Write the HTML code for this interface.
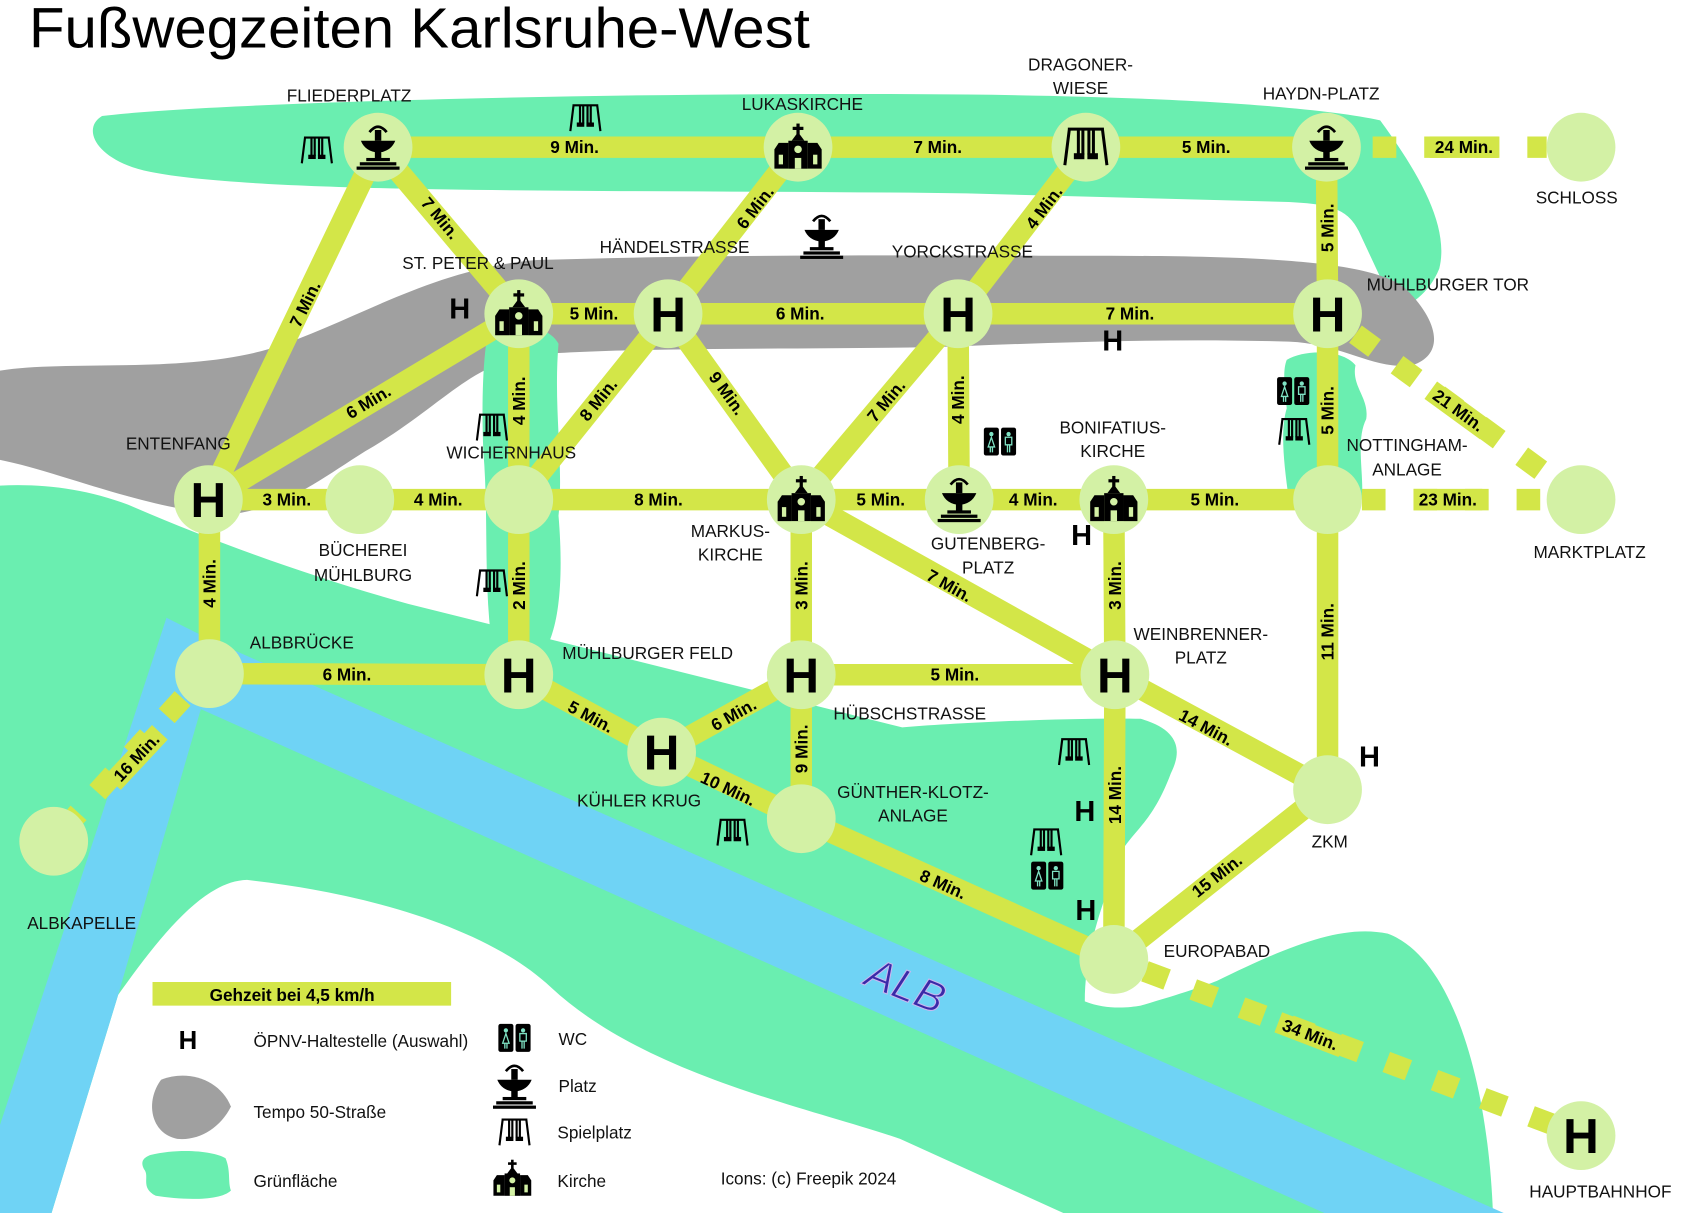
<!DOCTYPE html>
<html><head><meta charset="utf-8"><style>
html,body{margin:0;padding:0;background:#fff;}
svg{display:block;}
text{font-family:"Liberation Sans",sans-serif;}
.l{font-size:16px;fill:#111;text-anchor:middle;dominant-baseline:central;}
.m{font-size:16px;font-weight:bold;fill:#000;text-anchor:middle;dominant-baseline:central;}
.h{font-size:27px;font-weight:bold;fill:#000;text-anchor:middle;dominant-baseline:central;}
.H{font-size:46px;font-weight:bold;fill:#000;text-anchor:middle;dominant-baseline:central;}
.lg{font-size:16px;fill:#111;dominant-baseline:central;}
</style></head><body>
<svg width="1682" height="1213" viewBox="0 0 1566 1129" preserveAspectRatio="none" xmlns="http://www.w3.org/2000/svg">
<defs>
<g id="fount">
 <rect x="-3" y="-14" width="6" height="10" fill="#000"/>
 <path d="M-8,-12 Q0,-22 8,-12" fill="none" stroke="#000" stroke-width="2.5"/>
 <path d="M-16,-4 L16,-4 Q12,6 0,7 Q-12,6 -16,-4Z" fill="#000"/>
 <rect x="-3" y="6" width="6" height="7" fill="#000"/>
 <rect x="-11" y="12" width="22" height="3" fill="#000"/>
 <rect x="-17" y="16" width="34" height="3" fill="#000"/>
 <rect x="-20" y="20" width="40" height="3" fill="#000"/>
</g>
<g id="church">
 <rect x="-1.5" y="-22" width="3" height="10" fill="#000"/>
 <rect x="-5" y="-19" width="10" height="3" fill="#000"/>
 <path d="M-6,-6 L0,-14 L6,-6Z" fill="#000"/>
 <rect x="-9" y="-6" width="18" height="26" fill="#000"/>
 <path d="M-22,2 L-18,-4 L-9,-4 L-9,20 L-22,20Z" fill="#000"/>
 <path d="M22,2 L18,-4 L9,-4 L9,20 L22,20Z" fill="#000"/>
 <circle cx="0" cy="2" r="3.5" fill="#d3f1a5"/>
 <rect x="-3" y="10" width="6" height="10" fill="#d3f1a5"/>
 <rect x="-18" y="7" width="4" height="9" fill="#d3f1a5"/>
 <rect x="14" y="7" width="4" height="9" fill="#d3f1a5"/>
</g>
<g id="swing">
 <path d="M-12,-12 L12,-12 M-11,-12 L-14,12 M11,-12 L14,12 M-5,-12 L-5,5 M-2,-12 L-2,5 M5,-12 L5,5 M2,-12 L2,5" stroke="#000" stroke-width="2" fill="none"/>
 <rect x="-8" y="4" width="7" height="4" fill="#000"/>
 <rect x="1" y="4" width="7" height="4" fill="#000"/>
</g>
<g id="wc">
 <rect x="-15" y="-13" width="14" height="26" rx="2" fill="#000"/>
 <rect x="1" y="-13" width="14" height="26" rx="2" fill="#000"/>
 <circle cx="-8" cy="-7" r="2" fill="#7fe3c4"/>
 <path d="M-8,-4 L-11,5 L-5,5Z M-9,5 L-9,10 M-7,5 L-7,10" stroke="#7fe3c4" stroke-width="1.2" fill="none"/>
 <circle cx="8" cy="-7" r="2" fill="#7fe3c4"/>
 <path d="M5,-4 L11,-4 L11,3 L5,3Z M7,3 L7,10 M9,3 L9,10" stroke="#7fe3c4" stroke-width="1.2" fill="none"/>
</g>
</defs>

<path d="M0,452 C40,450 80,455 120,470 C200,505 300,540 380,562 L840,677 C900,672 1000,668 1062,669 C1100,680 1100,700 1090,720 C1075,760 1060,770 1047,788 C1030,830 1010,880 1010,932 C1030,940 1050,938 1062,936 C1100,925 1120,918 1133,913 C1200,880 1250,860 1292,869 C1350,890 1385,1000 1390,1129 L0,1129 Z" fill="#6aeeb0"/>
<path d="M48,1129 L110,926 C150,870 190,820 230,819 C330,830 450,860 513,919 C600,1000 750,1030 838,1060 L990,1129 Z" fill="#fff"/>
<path d="M155,575 L195,595 L1400,1129 L1233,1129 L187,660 L110,926 L48,1129 L0,1129 L0,1047 Z" fill="#6fd3f5"/>
<path d="M95,108 C200,95 600,85 900,88 C1100,90 1230,100 1285,112 C1320,160 1350,210 1340,250 C1330,275 1310,285 1300,290 L1265,215 C1255,195 1240,190 1200,188 L900,180 C600,176 250,182 140,160 C90,150 75,120 95,108 Z" fill="#6aeeb0"/>
<path d="M0,345 C60,335 170,348 250,325 C330,300 400,250 500,242 C700,236 900,238 1000,238 C1150,238 1280,240 1310,270 C1340,300 1345,330 1315,340 C1280,345 1250,320 1200,318 C1100,315 1000,318 900,322 C800,326 600,322 500,330 C440,335 410,380 340,420 C300,445 270,470 220,478 C150,480 60,440 0,428 Z" fill="#a0a0a0"/>
<path d="M455,305 C470,300 510,300 520,320 C515,380 525,430 520,480 C525,540 520,580 510,600 L458,600 C450,540 455,480 450,420 C448,370 450,330 455,305Z" fill="#6aeeb0"/>
<path d="M1198,335 C1215,325 1250,325 1262,340 C1258,360 1275,370 1272,390 C1262,410 1270,440 1268,465 L1200,465 C1195,430 1192,400 1198,380 C1196,360 1194,345 1198,335Z" fill="#6aeeb0"/>

<g stroke="#d3e648" stroke-width="20" fill="none">
 <path d="M352,137 L1235,137"/>
 <path d="M352,137 L483,292 M352,137 L194,465 M743,137 L622,292 M1011,137 L892,292 M1235,137 L1236,292"/>
 <path d="M483,292 L1236,292"/>
 <path d="M483,292 L194,465 M483,292 L483,465 M622,292 L483,465 M622,292 L746,465 M892,292 L746,465 M892,292 L893,465 M1236,292 L1236,465"/>
 <path d="M194,465 L1236,465"/>
 <path d="M195,465 L195,627 M483,465 L483,628 M746,465 L746,628 M746,465 L1038,628 M1037,465 L1038,628 M1236,465 L1236,735"/>
 <path d="M195,627 L483,628 M746,628 L1038,628 M483,628 L616,700 L746,628 M616,700 L746,762 M746,628 L746,762"/>
 <path d="M1038,628 L1236,735 M1038,628 L1037,893 M746,762 L1037,893 L1236,735"/>
</g>
<g stroke="#d3e648" stroke-width="20" fill="none" stroke-dasharray="22 26">
 <path d="M1278,137 L1440,137"/>
 <path d="M1262,311 L1450,449"/>
 <path d="M1268,465 L1440,465"/>
 <path d="M170,650 L70,760"/>
 <path d="M1066,904 L1444,1046"/>
</g>

<g fill="#d3f1a5">
 <circle cx="352" cy="137" r="32"/><circle cx="743" cy="137" r="32"/><circle cx="1011" cy="137" r="32"/><circle cx="1235" cy="137" r="32"/><circle cx="1472" cy="137" r="32"/>
 <circle cx="483" cy="292" r="32"/><circle cx="622" cy="292" r="32"/><circle cx="892" cy="292" r="32"/><circle cx="1236" cy="292" r="32"/>
 <circle cx="194" cy="465" r="32"/><circle cx="335" cy="465" r="32"/><circle cx="483" cy="465" r="32"/><circle cx="746" cy="465" r="32"/><circle cx="893" cy="465" r="32"/><circle cx="1037" cy="465" r="32"/><circle cx="1236" cy="465" r="32"/><circle cx="1472" cy="465" r="32"/>
 <circle cx="195" cy="627" r="32"/><circle cx="483" cy="628" r="32"/><circle cx="746" cy="628" r="32"/><circle cx="1038" cy="628" r="32"/>
 <circle cx="616" cy="700" r="32"/><circle cx="746" cy="762" r="32"/><circle cx="1236" cy="735" r="32"/><circle cx="1037" cy="893" r="32"/><circle cx="50" cy="783" r="32"/><circle cx="1472" cy="1057" r="32"/>
</g>
<use href="#fount" x="352" y="135"/>
<use href="#church" x="743" y="137"/>
<g transform="translate(1011,137) scale(1.4)"><use href="#swing"/></g>
<use href="#fount" x="1235" y="135"/>
<use href="#church" x="483" y="292"/>
<use href="#church" x="746" y="465"/>
<use href="#fount" x="893" y="463"/>
<use href="#church" x="1037" y="465"/>
<text class="H" x="622" y="293">H</text>
<text class="H" x="892" y="293">H</text>
<text class="H" x="1236" y="293">H</text>
<text class="H" x="194" y="466">H</text>
<text class="H" x="483" y="629">H</text>
<text class="H" x="746" y="629">H</text>
<text class="H" x="1038" y="629">H</text>
<text class="H" x="616" y="701">H</text>
<text class="H" x="1472" y="1058">H</text>

<use href="#swing" x="295" y="140"/><use href="#swing" x="545" y="110"/><use href="#swing" x="458" y="398"/><use href="#swing" x="458" y="543"/><use href="#swing" x="1205" y="402"/><use href="#swing" x="682" y="775"/><use href="#swing" x="1000" y="700"/><use href="#swing" x="974" y="784"/>
<use href="#fount" x="765" y="218"/>
<use href="#wc" x="931" y="411"/><use href="#wc" x="1204" y="364"/><use href="#wc" x="975" y="815"/>

<text class="h" x="428" y="288">H</text><text class="h" x="1036" y="318">H</text><text class="h" x="1007" y="499">H</text><text class="h" x="1275" y="705">H</text><text class="h" x="1010" y="756">H</text><text class="h" x="1011" y="848">H</text>

<g>
<text class="m" x="535" y="137">9 Min.</text>
<text class="m" x="873" y="137">7 Min.</text>
<text class="m" x="1123" y="137">5 Min.</text>
<rect x="1331" y="127" width="64" height="20" fill="#d3e648"/>
<text class="m" x="1363" y="137">24 Min.</text>
<text class="m" transform="translate(410,203) rotate(50)">7 Min.</text>
<text class="m" transform="translate(284,283) rotate(-64)">7 Min.</text>
<text class="m" transform="translate(703,193) rotate(-52)">6 Min.</text>
<text class="m" transform="translate(972,193) rotate(-53)">4 Min.</text>
<text class="m" transform="translate(1236,212) rotate(-90)">5 Min.</text>
<text class="m" x="553" y="292">5 Min.</text>
<text class="m" x="745" y="292">6 Min.</text>
<text class="m" x="1052" y="292">7 Min.</text>
<g transform="translate(1358,382) rotate(36)"><rect x="-32" y="-10" width="64" height="20" fill="#d3e648"/><text class="m" x="0" y="0">21 Min.</text></g>
<text class="m" transform="translate(343,374) rotate(-31)">6 Min.</text>
<text class="m" transform="translate(483,373) rotate(-90)">4 Min.</text>
<text class="m" transform="translate(557,372) rotate(-51)">8 Min.</text>
<text class="m" transform="translate(677,366) rotate(54)">9 Min.</text>
<text class="m" transform="translate(825,373) rotate(-50)">7 Min.</text>
<text class="m" transform="translate(892,372) rotate(-90)">4 Min.</text>
<text class="m" transform="translate(1236,382) rotate(-90)">5 Min.</text>
<text class="m" x="267" y="465">3 Min.</text>
<text class="m" x="408" y="465">4 Min.</text>
<text class="m" x="613" y="465">8 Min.</text>
<text class="m" x="820" y="465">5 Min.</text>
<text class="m" x="962" y="465">4 Min.</text>
<text class="m" x="1131" y="465">5 Min.</text>
<rect x="1316" y="455" width="64" height="20" fill="#d3e648"/>
<text class="m" x="1348" y="465">23 Min.</text>
<text class="m" transform="translate(195,543) rotate(-90)">4 Min.</text>
<text class="m" transform="translate(483,545) rotate(-90)">2 Min.</text>
<text class="m" transform="translate(746,545) rotate(-90)">3 Min.</text>
<text class="m" transform="translate(884,545) rotate(29)">7 Min.</text>
<text class="m" transform="translate(1038,545) rotate(-90)">3 Min.</text>
<text class="m" transform="translate(1236,588) rotate(-90)">11 Min.</text>
<text class="m" x="323" y="628">6 Min.</text>
<text class="m" x="889" y="628">5 Min.</text>
<text class="m" transform="translate(550,667) rotate(28)">5 Min.</text>
<text class="m" transform="translate(683,665) rotate(-29)">6 Min.</text>
<text class="m" transform="translate(678,734) rotate(25)">10 Min.</text>
<text class="m" transform="translate(746,697) rotate(-90)">9 Min.</text>
<text class="m" transform="translate(1123,677) rotate(28)">14 Min.</text>
<text class="m" transform="translate(1038,740) rotate(-90)">14 Min.</text>
<text class="m" transform="translate(878,823) rotate(24)">8 Min.</text>
<text class="m" transform="translate(1133,815) rotate(-38)">15 Min.</text>
<g transform="translate(127,705) rotate(-47)"><rect x="-32" y="-10" width="64" height="20" fill="#d3e648"/><text class="m" x="0" y="0">16 Min.</text></g>
<g transform="translate(1220,963) rotate(21)"><rect x="-32" y="-10" width="64" height="20" fill="#d3e648"/><text class="m" x="0" y="0">34 Min.</text></g>
</g>

<g>
<text class="l" x="325" y="89">FLIEDERPLATZ</text>
<text class="l" x="747" y="97">LUKASKIRCHE</text>
<text class="l" x="1006" y="60">DRAGONER-</text><text class="l" x="1006" y="82">WIESE</text>
<text class="l" x="1230" y="87">HAYDN-PLATZ</text>
<text class="l" x="1468" y="184">SCHLOSS</text>
<text class="l" x="445" y="245">ST. PETER &amp; PAUL</text>
<text class="l" x="628" y="230">HÄNDELSTRASSE</text>
<text class="l" x="896" y="234">YORCKSTRASSE</text>
<text class="l" x="1348" y="265">MÜHLBURGER TOR</text>
<text class="l" x="166" y="413">ENTENFANG</text>
<text class="l" x="476" y="421">WICHERNHAUS</text>
<text class="l" x="338" y="512">BÜCHEREI</text><text class="l" x="338" y="535">MÜHLBURG</text>
<text class="l" x="680" y="494">MARKUS-</text><text class="l" x="680" y="516">KIRCHE</text>
<text class="l" x="920" y="506">GUTENBERG-</text><text class="l" x="920" y="528">PLATZ</text>
<text class="l" x="1036" y="398">BONIFATIUS-</text><text class="l" x="1036" y="420">KIRCHE</text>
<text class="l" x="1310" y="414">NOTTINGHAM-</text><text class="l" x="1310" y="437">ANLAGE</text>
<text class="l" x="1480" y="514">MARKTPLATZ</text>
<text class="l" x="281" y="598">ALBBRÜCKE</text>
<text class="l" x="603" y="608">MÜHLBURGER FELD</text>
<text class="l" x="847" y="664">HÜBSCHSTRASSE</text>
<text class="l" x="1118" y="590">WEINBRENNER-</text><text class="l" x="1118" y="612">PLATZ</text>
<text class="l" x="595" y="745">KÜHLER KRUG</text>
<text class="l" x="850" y="737">GÜNTHER-KLOTZ-</text><text class="l" x="850" y="759">ANLAGE</text>
<text class="l" x="1238" y="783">ZKM</text>
<text class="l" x="1133" y="885">EUROPABAD</text>
<text class="l" x="76" y="859">ALBKAPELLE</text>
<text class="l" x="1490" y="1109">HAUPTBAHNHOF</text>
</g>

<text transform="translate(843,918) rotate(22)" font-size="40" font-style="italic" fill="#3a2aa8" stroke="#c8b8f0" stroke-width="1" text-anchor="middle" dominant-baseline="central">ALB</text>

<text x="27" y="44" font-size="53" fill="#000" textLength="727" lengthAdjust="spacingAndGlyphs">Fußwegzeiten Karlsruhe-West</text>

<rect x="142" y="914" width="278" height="22" fill="#d3e648"/>
<text class="m" x="272" y="926">Gehzeit bei 4,5 km/h</text>
<text class="h" x="175" y="969" style="font-size:24px">H</text>
<text class="lg" x="236" y="969">ÖPNV-Haltestelle (Auswahl)</text>
<path d="M150,1005 C175,995 205,1005 215,1030 C205,1050 185,1062 165,1060 C140,1055 135,1025 150,1005Z" fill="#a0a0a0"/>
<text class="lg" x="236" y="1035">Tempo 50-Straße</text>
<path d="M140,1075 C170,1068 200,1072 210,1078 C215,1090 212,1100 215,1108 C205,1118 170,1117 145,1113 C130,1105 140,1095 134,1088 C130,1080 135,1077 140,1075Z" fill="#6aeeb0"/>
<text class="lg" x="236" y="1099">Grünfläche</text>
<use href="#wc" x="479" y="966"/><text class="lg" x="520" y="967">WC</text>
<use href="#fount" x="479" y="1009"/><text class="lg" x="520" y="1011">Platz</text>
<use href="#swing" x="479" y="1054"/><text class="lg" x="519" y="1054">Spielplatz</text>
<g transform="translate(477,1097) scale(0.8)"><use href="#church"/></g><text class="lg" x="519" y="1099">Kirche</text>
<text class="lg" x="671" y="1097">Icons: (c) Freepik 2024</text>
</svg>
</body></html>
